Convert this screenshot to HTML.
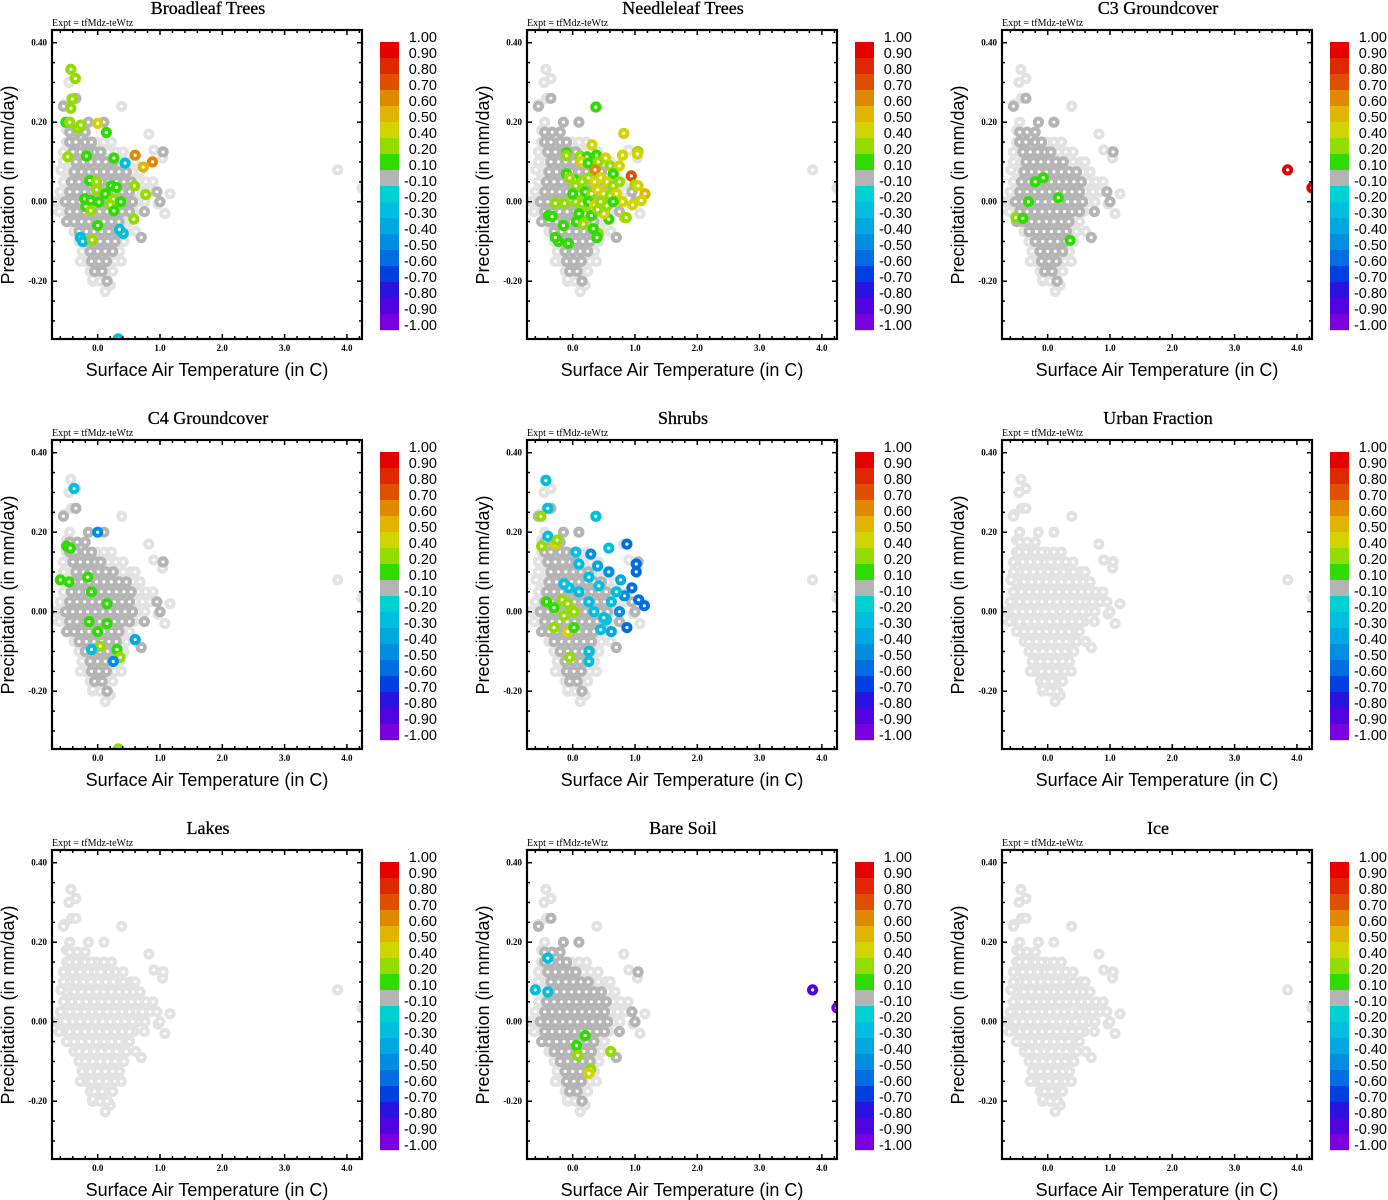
<!DOCTYPE html>
<html><head><meta charset="utf-8"><style>
body{margin:0;background:#fff;width:1388px;height:1200px;overflow:hidden}
svg{position:absolute;left:0;top:0}
</style></head><body>
<svg id="root" width="1388" height="1200" xmlns="http://www.w3.org/2000/svg"></svg>
<script>
// ---- data ----
const panelTitles=["Broadleaf Trees","Needleleaf Trees","C3 Groundcover","C4 Groundcover","Shrubs","Urban Fraction","Lakes","Bare Soil","Ice"];
const panelHasDark=[1,1,1,1,1,0,0,1,0];
const cbLabels=["1.00","0.90","0.80","0.70","0.60","0.50","0.40","0.20","0.10","-0.10","-0.20","-0.30","-0.40","-0.50","-0.60","-0.70","-0.80","-0.90","-1.00"];
const cbColors=["#e60000","#e02800","#e04e00","#df8800","#e0b400","#d2d400","#94dc00","#30dc00","#b4b4b4","#00d2d2","#00bede","#00a8e0","#008ee0","#006ee0","#0040e0","#2a12e0","#5004e0","#7a00e0"];
const xTickVals=[0,1,2,3,4];
const xTickLabels=["0.0","1.0","2.0","3.0","4.0"];
const yTickVals=[0.4,0.2,0,-0.2];
const yTickLabels=["0.40","0.20","0.00","-0.20"];
// light cloud rows
const lightP=[0.15,0.125,0.1,0.075,0.05,0.025,0,-0.025,-0.05,-0.075,-0.1,-0.125,-0.15,-0.175,-0.2];
const lightT=[
[-0.5,-0.38,-0.26,-0.14,-0.02,0.1,0.22],
[-0.55,-0.43,-0.31,-0.19,-0.07,0.05,0.17,0.29,0.41],
[-0.55,-0.43,-0.31,-0.19,-0.07,0.05,0.17,0.29,0.41,0.53],
[-0.52,-0.4,-0.28,-0.16,-0.04,0.08,0.2,0.32,0.44,0.56,0.68],
[-0.55,-0.43,-0.31,-0.19,-0.07,0.05,0.17,0.29,0.41,0.53,0.65,0.77,0.89],
[-0.6,-0.48,-0.36,-0.24,-0.12,0,0.12,0.24,0.36,0.48,0.6,0.72,0.84],
[-0.68,-0.56,-0.44,-0.32,-0.2,-0.08,0.04,0.16,0.28,0.4,0.52,0.64,0.76],
[-0.62,-0.5,-0.38,-0.26,-0.14,-0.02,0.1,0.22,0.34,0.46,0.58],
[-0.45,-0.33,-0.21,-0.09,0.03,0.15,0.27,0.39,0.51],
[-0.38,-0.26,-0.14,-0.02,0.1,0.22,0.34,0.46],
[-0.3,-0.18,-0.06,0.06,0.18,0.3,0.42],
[-0.25,-0.13,-0.01,0.11,0.23,0.35],
[-0.2,-0.08,0.04,0.16,0.28,0.38],
[-0.12,0,0.12,0.24],
[-0.08,0.04,0.16]];
const lightOutT=[-0.43,-0.35,-0.46,-0.42,-0.54,0.385,0.82,1.05,1.16,1.08,0.97,0.61,0.12,0.2,-0.08,-0.28,-0.59,-0.71,3.85,4.24,-0.45,-0.5,0.6,0.9,1.04];
const lightOutP=[0.333,0.31,0.3,0.26,0.245,0.24,0.17,0.126,0.02,-0.03,-0.006,-0.075,-0.226,-0.21,-0.195,-0.15,0.08,-0.016,0.08,0.035,0.2,0.18,0.1,0.13,0.11];
// dark cloud rows
const darkP=[0.175,0.15,0.125,0.1,0.075,0.05,0.025,0,-0.025,-0.05,-0.075,-0.1,-0.125,-0.15,-0.175];
const darkT=[
[-0.45,-0.33,-0.2],
[-0.45,-0.35,-0.2,-0.1],
[-0.4,-0.28,-0.16,-0.04,0.05,1.05],
[-0.35,-0.23,-0.11,0.01,0.13,0.25],
[-0.38,-0.26,-0.14,-0.02,0.1,0.22,0.34,0.46],
[-0.42,-0.3,-0.18,-0.06,0.06,0.18,0.3,0.42,0.54],
[-0.45,-0.33,-0.21,-0.09,0.03,0.15,0.27,0.39,0.51,0.95],
[-0.52,-0.4,-0.28,-0.16,-0.04,0.08,0.2,0.32,0.44,0.56,1.0],
[-0.45,-0.33,-0.21,-0.09,0.03,0.15,0.27,0.39,0.51,0.75],
[-0.38,-0.26,-0.14,-0.02,0.1,0.22,0.34],
[-0.3,-0.18,-0.06,0.06,0.18,0.3],
[-0.2,-0.08,0.04,0.16,0.28],
[-0.12,0,0.12,0.24],
[-0.1,0.02,0.14],
[-0.05,0.07]];
const darkOutT=[-0.35,-0.15,0.1,-0.55,-0.5,0.15,0.7];
const darkOutP=[0.26,0.2,0.2,0.24,-0.05,-0.2,-0.09];
// coloured points per panel: [temperature, precipitation, correlation]
const broadleafPts=[[-0.43,0.333,0.3],[-0.36,0.31,0.3],[-0.41,0.258,0.3],[-0.43,0.235,0.3],[-0.51,0.2,0.15],[-0.45,0.2,0.3],[0,0.197,0.45],[-0.32,0.185,0.3],[-0.27,0.193,0.3],[0.14,0.174,0.15],[-0.48,0.113,0.3],[-0.18,0.115,0.15],[0.26,0.11,0.15],[0.44,0.097,-0.3],[0.6,0.117,0.65],[0.88,0.1,0.65],[0.73,0.087,0.55],[-0.13,0.053,0.15],[-0.02,0.05,0.3],[-0.02,0.03,0.3],[0.22,0.04,0.15],[0.3,0.036,0.15],[0.59,0.04,0.3],[0.77,0.018,0.3],[0.12,0.02,0.15],[0.25,0.006,0.3],[-0.21,0.007,0.15],[-0.11,0.003,0.15],[0.02,-0.001,0.15],[0.37,0,0.15],[0.2,-0.008,0.3],[-0.19,-0.012,0.15],[-0.11,-0.023,0.3],[0.26,-0.023,0.15],[0.58,-0.044,0.3],[0,-0.06,0.15],[0.41,-0.08,-0.3],[-0.28,-0.09,-0.25],[-0.24,-0.1,-0.25],[-0.09,-0.096,0.3],[0.35,-0.07,-0.25],[0.33,-0.345,-0.3]];
const needlePts=[[0.37,0.238,0.15],[0.82,0.172,0.45],[0.31,0.143,0.45],[1.04,0.126,0.3],[1.04,0.12,0.45],[0.8,0.117,0.45],[-0.1,0.123,0.15],[-0.1,0.116,0.3],[0.12,0.115,0.3],[0.23,0.113,0.15],[0.38,0.117,0.15],[0.53,0.11,0.45],[0.14,0.1,0.45],[0.25,0.097,0.15],[0.41,0.1,0.3],[0.36,0.08,0.6],[0.6,0.09,0.3],[0.75,0.09,0.45],[-0.1,0.07,0.15],[0.03,0.055,0.15],[0.94,0.065,0.7],[0.65,0.07,0.15],[1.0,0.042,0.3],[1.05,0.04,0.45],[1.16,0.02,0.55],[1.1,0.003,0.45],[0.96,-0.008,0.45],[0.83,-0.04,0.45],[0.86,-0.04,0.3],[0.8,0,0.45],[0.58,-0.044,0.15],[0.5,-0.03,0.45],[0.41,-0.08,0.3],[0.39,-0.09,0.15],[-0.07,-0.105,0.15],[-0.23,-0.1,0.15],[-0.28,-0.09,0.15],[-0.39,-0.035,0.15],[-0.33,-0.037,0.15],[-0.28,-0.004,0.3],[-0.13,-0.004,0.3],[0.06,-0.05,0.15],[0.17,-0.056,0.3],[0.33,-0.068,0.15],[-0.15,-0.06,0.15],[0.05,0.04,0.3],[0.15,0.05,0.3],[0.25,0.06,0.3],[0.35,0.05,0.45],[0.45,0.06,0.45],[0.55,0.05,0.45],[0.65,0.04,0.3],[0.1,0.02,0.3],[0.2,0.025,0.15],[0.3,0.02,0.3],[0.4,0.03,0.45],[0.5,0.02,0.45],[0.6,0.015,0.3],[0.7,0.02,0.45],[0.05,0,0.3],[0.15,-0.005,0.3],[0.25,0,0.15],[0.35,-0.01,0.45],[0.45,0,0.3],[0.55,-0.01,0.3],[0.65,0,0.15],[0.2,-0.03,0.3],[0.3,-0.035,0.15],[0.4,-0.02,0.3],[0.1,-0.03,0.15],[0,0.02,0.15],[-0.05,0.06,0.3],[0.75,0.05,0.3]];
const c3Pts=[[3.85,0.08,0.95],[4.24,0.035,0.95],[-0.51,-0.04,0.3],[-0.4,-0.042,0.15],[-0.31,0,0.15],[-0.2,0.05,0.15],[-0.07,0.06,0.15],[0.17,0.01,0.15],[0.36,-0.097,0.15]];
const c4Pts=[[-0.38,0.31,-0.3],[0,0.2,-0.5],[-0.5,0.165,0.15],[-0.44,0.16,0.15],[-0.6,0.08,0.15],[-0.46,0.075,0.15],[-0.16,0.087,0.15],[-0.1,0.05,0.15],[-0.14,-0.025,0.15],[0.15,-0.03,0.15],[0,-0.05,0.15],[0.04,-0.087,0.3],[-0.1,-0.095,-0.25],[0.6,-0.07,-0.4],[0.31,-0.095,0.15],[0.36,-0.115,0.3],[0.25,-0.125,-0.5],[0.33,-0.345,0.3],[0.15,0.02,0.15]];
const shrubPts=[[-0.43,0.33,-0.25],[-0.4,0.26,-0.25],[-0.51,0.24,0.3],[0.37,0.24,-0.3],[-0.5,0.165,0.3],[-0.28,0.17,0.45],[-0.4,0.19,-0.25],[-0.25,0.18,0.3],[0.05,0.15,-0.25],[0.29,0.145,-0.5],[0.58,0.16,-0.3],[0.87,0.17,-0.6],[0.1,0.12,-0.3],[0.4,0.115,-0.4],[1.02,0.12,-0.6],[1.02,0.1,-0.6],[0.58,0.1,-0.5],[0.77,0.08,-0.4],[0.26,0.087,-0.25],[0.95,0.06,-0.6],[0.83,0.04,-0.5],[1.15,0.015,-0.6],[1.06,0.03,-0.6],[0.62,0.025,-0.3],[0.75,0,-0.5],[0.54,-0.02,-0.3],[0.62,-0.05,-0.4],[0.87,-0.04,-0.6],[0.45,-0.045,-0.25],[0.5,-0.015,-0.25],[0.7,0.05,-0.3],[0.26,0.025,-0.25],[-0.06,0.06,-0.25],[-0.14,0.07,-0.25],[0.1,0.05,-0.25],[0.42,0.065,-0.3],[0.34,0,-0.25],[-0.17,0.03,0.3],[-0.08,0.02,0.3],[-0.14,-0.01,0.3],[0.02,0,0.3],[-0.3,-0.04,0.3],[-0.08,-0.05,0.45],[0.02,-0.04,0.15],[-0.05,-0.115,0.3],[0.26,-0.1,-0.25],[0.26,-0.125,-0.25],[-0.42,0.025,0.15],[-0.3,0.01,0.15]];
const bareSoilPts=[[3.85,0.08,-0.85],[4.24,0.035,-0.95],[-0.6,0.08,-0.25],[-0.4,0.075,-0.25],[-0.4,0.16,-0.25],[0.06,-0.06,0.15],[0.2,-0.035,0.15],[0.08,-0.085,0.3],[0.61,-0.075,0.3],[0.29,-0.12,0.3],[0.26,-0.13,0.45]];
const panelPts=[broadleafPts,needlePts,c3Pts,c4Pts,shrubPts,[],[],bareSoilPts,[]];

// ---- drawing ----
const NS="http://www.w3.org/2000/svg";
const root=document.getElementById('root');
function mk(tag,attrs,parent){const e=document.createElementNS(NS,tag);for(const k in attrs)e.setAttribute(k,attrs[k]);parent.appendChild(e);return e;}
const X0=52,X1=362,Y0=30,Y1=339;
function sx(t){return 97.7+62.3*t;}
function sy(p){return 201.7-397.5*p;}
function colorFor(v){
  const bounds=[0.9,0.8,0.7,0.6,0.5,0.4,0.2,0.1,-0.1,-0.2,-0.3,-0.4,-0.5,-0.6,-0.7,-0.8,-0.9];
  for(let i=0;i<bounds.length;i++){if(v>=bounds[i])return cbColors[i];}
  return cbColors[17];
}
function dot(g,t,p,col,name){
  const c=mk('circle',{cx:sx(t).toFixed(1),cy:sy(p).toFixed(1),r:3.6,fill:'#fff',stroke:col,'stroke-width':4},g);
  
  
}
panelTitles.forEach((title,i)=>{
  const ox=(i%3)*475, oy=Math.floor(i/3)*410;
  const g=mk('g',{transform:`translate(${ox},${oy})`},root);
  
  
  const cp=mk('clipPath',{id:'clip'+i},g);
  mk('rect',{x:X0,y:Y0,width:X1-X0,height:Y1-Y0},cp);
  const t=mk('text',{x:208,y:14,'text-anchor':'middle','font-family':'Liberation Serif, serif','font-size':18,'fill':'#000','stroke':'#000','stroke-width':0.3},g);t.textContent=title;
  
  const ex=mk('text',{x:52,y:26,'font-family':'Liberation Serif, serif','font-size':10},g);ex.textContent='Expt = tfMdz-teWtz';
  
  const pts=mk('g',{'clip-path':`url(#clip${i})`},g);
  
  const lc='#e2e2e2', dc=panelHasDark[i]?'#b4b4b4':'#e2e2e2';
  lightP.forEach((p,r)=>lightT[r].forEach(tv=>dot(pts,tv,p,lc,'point-background')));
  lightOutT.forEach((tv,k)=>dot(pts,tv,lightOutP[k],lc,'point-background'));
  darkP.forEach((p,r)=>darkT[r].forEach(tv=>dot(pts,tv,p,dc,'point-neutral')));
  darkOutT.forEach((tv,k)=>dot(pts,tv,darkOutP[k],dc,'point-neutral'));
  panelPts[i].forEach(q=>dot(pts,q[0],q[1],colorFor(q[2]),'point-correlated'));
  const fr=mk('rect',{x:X0,y:Y0,width:X1-X0,height:Y1-Y0,fill:'none',stroke:'#000','stroke-width':2.2},g);
  
  for(let k=-3;k<=21;k++){const v=k*0.2;const x=sx(v);if(x<X0+1||x>X1-1)continue;
    const maj=(k%5===0);const L=maj?5:3;
    mk('line',{x1:x,y1:Y1,x2:x,y2:Y1-L,stroke:'#000','stroke-width':1.5},g);
    mk('line',{x1:x,y1:Y0,x2:x,y2:Y0+L,stroke:'#000','stroke-width':1.5},g);}
  xTickVals.forEach((v,k)=>{const tx=mk('text',{x:sx(v),y:Y1+12,'text-anchor':'middle','font-family':'Liberation Serif, serif','font-size':9,'font-weight':'bold'},g);tx.textContent=xTickLabels[k];
    });
  for(let k=-7;k<=8;k++){const v=k*0.05;const y=sy(v);if(y<Y0+1||y>Y1-1)continue;
    const maj=(k%4===0);const L=maj?5:3;
    mk('line',{x1:X0,y1:y,x2:X0+L,y2:y,stroke:'#000','stroke-width':1.5},g);
    mk('line',{x1:X1,y1:y,x2:X1-L,y2:y,stroke:'#000','stroke-width':1.5},g);}
  yTickVals.forEach((v,k)=>{const ty=mk('text',{x:47,y:sy(v)+3,'text-anchor':'end','font-family':'Liberation Serif, serif','font-size':9,'font-weight':'bold'},g);ty.textContent=yTickLabels[k];
    });
  const xl=mk('text',{x:207,y:376,'text-anchor':'middle','font-family':'Liberation Sans, sans-serif','font-size':18},g);xl.textContent='Surface Air Temperature (in C)';
  
  const yl=mk('text',{x:0,y:0,'text-anchor':'middle','font-family':'Liberation Sans, sans-serif','font-size':18,transform:'translate(14,185) rotate(-90)'},g);yl.textContent='Precipitation (in mm/day)';
  
  const cb=mk('g',{},g);
  
  cbColors.forEach((c,k)=>{const r=mk('rect',{x:380,y:42+16*k,width:19,height:16.2,fill:c},cb);
    });
  cbLabels.forEach((s,k)=>{const tl=mk('text',{x:437,y:42+16*k,'text-anchor':'end','font-family':'Liberation Sans, sans-serif','font-size':14.5},cb);tl.textContent=s;
    });
});
</script>
</body></html>
